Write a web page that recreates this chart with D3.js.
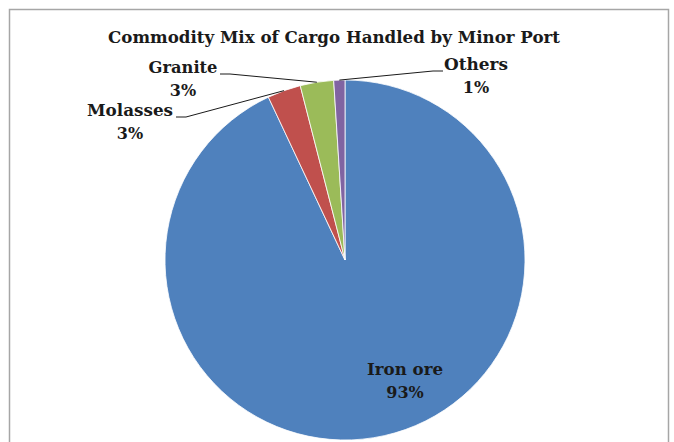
<!DOCTYPE html>
<html>
<head>
<meta charset="utf-8">
<script src="https://cdn.jsdelivr.net/npm/d3@7"></script>
<style>
  body { margin: 0; background: #fff; }
  text { font-family: "DejaVu Serif", serif; font-weight: bold; fill: #1a1a1a; }
</style>
</head>
<body>
<svg id="chart" width="674" height="442"></svg>
<script>
// Data
const categories = ["Iron ore", "Molasses", "Granite", "Others"];
const shares = [93, 3, 3, 1];
const colors = ["#4f81bd", "#c0504d", "#9bbb59", "#8064a2"];
const title = "Commodity Mix of Cargo Handled by Minor Port";

// label anchor spots (text layout only)
const labelPos = {
    "Iron ore": {x: 405, y: 375, w: 76},
    "Molasses": {x: 130, y: 116, w: 86, lead: [176, 117]},
    "Granite":  {x: 183, y: 73,  w: 69, lead: [220, 74]},
    "Others":   {x: 476, y: 70,  w: 64, lead: [443, 71]}
};

const svg = d3.select("#chart");
const cx = 345, cy = 260, radius = 180;

// frame
svg.append("rect")
    .attr("x", 9.5).attr("y", 9.5)
    .attr("width", 659).attr("height", 460)
    .attr("fill", "#fff")
    .attr("stroke", "#a6a6a6")
    .attr("stroke-width", 1.5);

// title
svg.append("text")
    .attr("x", 334).attr("y", 43)
    .attr("text-anchor", "middle")
    .attr("font-size", 16)
    .attr("textLength", 452)
    .attr("lengthAdjust", "spacingAndGlyphs")
    .text(title);

const data = categories.map((c, i) => ({name: c, value: shares[i], color: colors[i]}));

const pie = d3.pie().sort(null).value(d => d.value);
const arcs = pie(data);

const arc = d3.arc().innerRadius(0).outerRadius(radius);
const edgeArc = d3.arc().innerRadius(radius).outerRadius(radius);

const g = svg.append("g").attr("transform", `translate(${cx},${cy})`);

g.selectAll("path")
    .data(arcs)
    .join("path")
        .attr("d", arc)
        .attr("fill", d => d.data.color)
        .attr("stroke", "#fff")
        .attr("stroke-width", 0.8);

// leader lines for the small slices
arcs.forEach(d => {
    const lp = labelPos[d.data.name];
    if (!lp.lead) return;
    const edge = edgeArc.centroid(d);
    const ex = cx + edge[0], ey = cy + edge[1];
    const dir = lp.lead[0] < ex ? 1 : -1;
    const pts = [lp.lead, [lp.lead[0] + dir * 10, lp.lead[1]], [ex, ey]];
    svg.append("polyline")
        .attr("points", pts.map(p => p.join(",")).join(" "))
        .attr("fill", "none")
        .attr("stroke", "#1a1a1a")
        .attr("stroke-width", 1);
});

// labels
arcs.forEach(d => {
    const lp = labelPos[d.data.name];
    svg.append("text")
        .attr("x", lp.x).attr("y", lp.y)
        .attr("text-anchor", "middle")
        .attr("font-size", 16)
        .attr("textLength", lp.w)
        .attr("lengthAdjust", "spacingAndGlyphs")
        .text(d.data.name);
    svg.append("text")
        .attr("x", lp.x).attr("y", lp.y + 23)
        .attr("text-anchor", "middle")
        .attr("font-size", 16)
        .text(d.data.value + "%");
});
</script>
</body>
</html>
